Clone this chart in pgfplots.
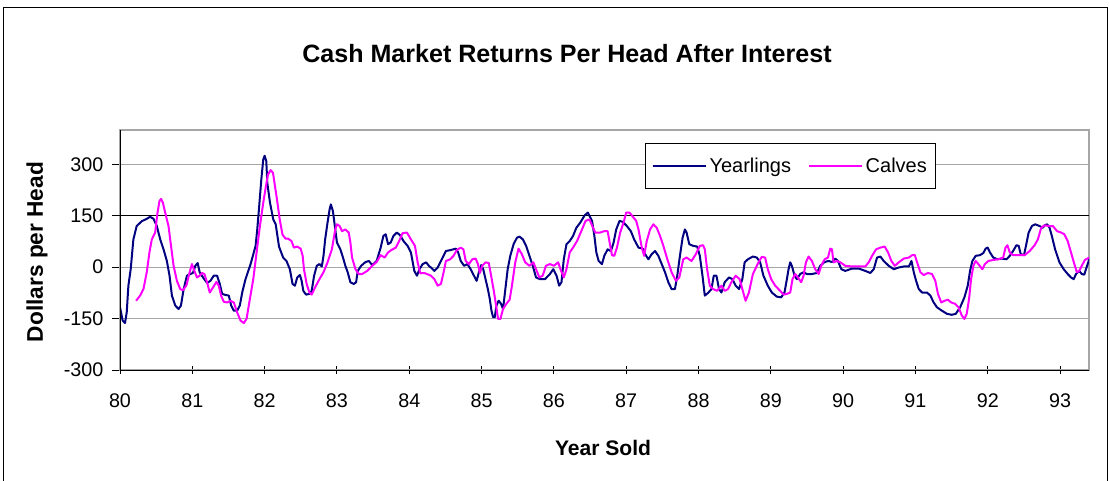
\documentclass[border=0pt]{standalone}
\usepackage{pgfplots}
\pgfplotsset{compat=1.18}
\usepackage{fontspec}
\setmainfont{Liberation Sans}
\definecolor{navy}{HTML}{000080}
\definecolor{magen}{HTML}{FF00FF}
\begin{document}
\begin{tikzpicture}
\clip (0pt,0pt) rectangle (831.75pt,-360pt);
\draw[black, line width=0.75pt] (2.25pt,-5.25pt) rectangle (830.25pt,-400pt);
\begin{axis}[
  at={(90pt,-277.5pt)}, anchor=south west,
  scale only axis, width=726.75pt, height=180pt,
  xmin=80, xmax=93.40, ymin=-300, ymax=400,
  xtick={80,81,...,93},
  xticklabels={80,81,82,83,84,85,86,87,88,89,90,91,92,93},
  ytick={-300,-150,0,150,300},
  yticklabels={-300,-150,0,150,300},
  extra y ticks={150}, extra y tick labels={},
  extra y tick style={grid style={black, line width=0.75pt}},
  tick pos=left, xtick align=center, ytick align=outside,
  major tick length=6pt,
  tick style={black, line width=0.75pt},
  ymajorgrids, grid style={gray!70, line width=0.75pt},
  axis line style={gray!70, line width=1pt},
  tick label style={font=\fontsize{14.8}{17}\selectfont},
  xticklabel style={yshift=-11pt},
  yticklabel style={xshift=-3pt},
  legend style={at={(rel axis cs:0.5418,0.9458)}, anchor=north west,
    draw=black, line width=0.75pt, fill=white,
    inner xsep=4.5pt, inner ysep=8.5pt,
    font=\fontsize{15}{18}\selectfont, legend columns=2,
    /tikz/every even column/.append style={column sep=10.5pt}},
  legend image code/.code={\draw[#1] (0pt,0pt) -- (40pt,0pt);},
]
\addplot[navy, line width=1.5pt, line join=round] coordinates {
(80.000,-117) (80.037,-156) (80.069,-163) (80.093,-132) (80.116,-54) (80.148,-6)
(80.185,81) (80.231,120) (80.301,134) (80.370,141) (80.417,147) (80.463,141)
(80.509,120) (80.556,81) (80.602,52) (80.648,18) (80.685,-25) (80.718,-83)
(80.764,-112) (80.810,-122) (80.843,-112) (80.880,-64) (80.926,-25) (80.972,-20)
(81.009,-17) (81.042,4) (81.074,12) (81.102,-15) (81.148,-30) (81.204,-46)
(81.250,-40) (81.296,-25) (81.343,-25) (81.380,-49) (81.412,-78) (81.458,-81)
(81.505,-83) (81.537,-112) (81.574,-127) (81.620,-127) (81.657,-112) (81.690,-74)
(81.736,-35) (81.806,9) (81.875,62) (81.898,110) (81.921,168) (81.954,255)
(81.981,314) (82.000,325) (82.023,309) (82.037,246) (82.074,188) (82.120,139)
(82.153,125) (82.199,60) (82.256,28) (82.302,18) (82.349,-6) (82.386,-49)
(82.419,-54) (82.451,-30) (82.488,-23) (82.512,-40) (82.535,-69) (82.572,-80)
(82.619,-78) (82.651,-69) (82.684,-25) (82.721,4) (82.758,9) (82.791,2)
(82.814,33) (82.837,81) (82.870,130) (82.898,168) (82.916,183) (82.944,164)
(82.977,110) (83.000,72) (83.047,52) (83.084,28) (83.116,4) (83.149,-15)
(83.186,-44) (83.233,-49) (83.265,-44) (83.288,-11) (83.335,4) (83.395,15)
(83.442,18) (83.488,6) (83.549,18) (83.605,57) (83.642,91) (83.674,96)
(83.707,67) (83.744,72) (83.781,91) (83.828,101) (83.874,93) (83.921,76)
(83.977,62) (84.023,43) (84.070,-11) (84.107,-25) (84.140,-6) (84.186,9)
(84.233,14) (84.279,2) (84.301,-1) (84.347,-11) (84.393,-1) (84.438,18)
(84.507,47) (84.575,50) (84.644,54) (84.676,43) (84.712,18) (84.758,4)
(84.804,9) (84.849,-6) (84.895,-25) (84.932,-40) (84.963,-15) (84.995,6)
(85.023,-6) (85.055,-35) (85.087,-64) (85.114,-93) (85.137,-127) (85.160,-146)
(85.183,-146) (85.205,-112) (85.237,-98) (85.269,-107) (85.297,-122) (85.329,-64)
(85.361,-6) (85.397,33) (85.443,67) (85.489,86) (85.525,89) (85.571,81)
(85.616,62) (85.662,33) (85.708,4) (85.753,-30) (85.808,-35) (85.877,-35)
(85.945,-20) (85.991,-6) (86.037,-25) (86.073,-54) (86.105,-44) (86.137,23)
(86.174,67) (86.219,76) (86.265,91) (86.311,115) (86.365,130) (86.425,151)
(86.470,159) (86.528,135) (86.560,91) (86.587,43) (86.619,18) (86.665,9)
(86.697,33) (86.743,52) (86.789,47) (86.826,72) (86.862,110) (86.908,135)
(86.954,132) (87.009,120) (87.064,105) (87.110,81) (87.170,57) (87.229,54)
(87.261,38) (87.307,23) (87.353,38) (87.399,47) (87.445,33) (87.491,9)
(87.537,-15) (87.583,-44) (87.628,-64) (87.674,-64) (87.706,-25) (87.743,33)
(87.780,86) (87.812,110) (87.835,101) (87.872,67) (87.927,62) (87.982,60)
(88.018,33) (88.055,-25) (88.087,-83) (88.133,-75) (88.179,-64) (88.211,-25)
(88.248,-25) (88.284,-64) (88.317,-74) (88.362,-44) (88.422,-30) (88.468,-35)
(88.514,-54) (88.560,-64) (88.606,-35) (88.638,14) (88.683,23) (88.752,31)
(88.806,28) (88.852,14) (88.898,-25) (88.958,-54) (89.014,-74) (89.083,-86)
(89.143,-88) (89.189,-74) (89.222,-35) (89.245,-6) (89.268,14) (89.291,4)
(89.328,-25) (89.360,-35) (89.406,-20) (89.453,-15) (89.499,-20) (89.568,-20)
(89.637,-17) (89.684,4) (89.744,15) (89.799,18) (89.845,15) (89.891,25)
(89.928,18) (89.975,-6) (90.030,-11) (90.122,-4) (90.215,-4) (90.307,-11)
(90.376,-17) (90.423,-6) (90.469,28) (90.515,31) (90.561,18) (90.630,4)
(90.700,-6) (90.769,-1) (90.838,2) (90.908,2) (90.945,18) (90.977,-15)
(91.009,-40) (91.046,-64) (91.092,-74) (91.160,-74) (91.206,-83) (91.252,-103)
(91.297,-117) (91.366,-127) (91.435,-136) (91.503,-139) (91.558,-136) (91.618,-117)
(91.677,-88) (91.723,-54) (91.755,-11) (91.787,18) (91.833,33) (91.892,35)
(91.938,41) (91.970,54) (91.998,57) (92.030,43) (92.076,28) (92.135,23)
(92.190,25) (92.259,23) (92.304,33) (92.350,47) (92.396,64) (92.428,62)
(92.455,38) (92.501,35) (92.533,67) (92.565,101) (92.611,120) (92.657,125)
(92.716,120) (92.762,115) (92.785,122) (92.822,125) (92.854,115) (92.886,91)
(92.931,52) (92.991,14) (93.050,-6) (93.105,-20) (93.151,-30) (93.188,-35)
(93.220,-20) (93.265,-11) (93.300,-20) (93.334,-22) (93.366,-1) (93.403,23)
};
\addlegendentry{Yearlings}
\addplot[magen, line width=1.5pt, line join=round] coordinates {
(80.222,-98) (80.278,-83) (80.324,-64) (80.370,-15) (80.407,43) (80.440,81)
(80.486,101) (80.519,159) (80.546,193) (80.569,199) (80.593,188) (80.625,159)
(80.671,120) (80.694,81) (80.741,4) (80.787,-40) (80.833,-64) (80.870,-67)
(80.917,-54) (80.963,-15) (80.995,9) (81.028,-11) (81.065,-30) (81.102,-25)
(81.134,-17) (81.167,-20) (81.204,-44) (81.241,-74) (81.287,-59) (81.333,-43)
(81.366,-54) (81.398,-83) (81.435,-101) (81.481,-103) (81.528,-98) (81.574,-103)
(81.620,-132) (81.667,-156) (81.713,-163) (81.750,-151) (81.796,-93) (81.843,-35)
(81.889,43) (81.935,120) (81.981,188) (82.014,231) (82.046,270) (82.083,283)
(82.116,275) (82.144,235) (82.176,190) (82.208,140) (82.247,95) (82.290,83)
(82.326,83) (82.372,76) (82.405,57) (82.451,60) (82.498,54) (82.526,33)
(82.544,-6) (82.581,-49) (82.619,-74) (82.651,-80) (82.698,-59) (82.758,-35)
(82.814,-15) (82.870,14) (82.930,52) (82.977,110) (83.000,125) (83.037,120)
(83.070,105) (83.116,110) (83.163,101) (83.186,72) (83.209,28) (83.256,-6)
(83.302,-20) (83.349,-20) (83.419,-11) (83.488,4) (83.549,15) (83.605,35)
(83.660,28) (83.707,43) (83.753,50) (83.814,57) (83.860,76) (83.907,99)
(83.967,101) (84.023,81) (84.079,62) (84.116,14) (84.153,-18) (84.209,-17)
(84.279,-23) (84.301,-25) (84.347,-35) (84.393,-54) (84.438,-49) (84.475,-15)
(84.507,18) (84.566,23) (84.612,33) (84.658,50) (84.712,57) (84.749,52)
(84.781,18) (84.826,9) (84.872,23) (84.918,25) (84.950,9) (84.977,-17)
(85.009,4) (85.055,14) (85.100,12) (85.132,-25) (85.169,-69) (85.201,-112)
(85.228,-151) (85.260,-151) (85.297,-122) (85.342,-107) (85.388,-95) (85.420,-54)
(85.466,14) (85.511,54) (85.557,38) (85.603,14) (85.662,4) (85.717,14)
(85.753,-6) (85.799,-30) (85.845,-25) (85.890,4) (85.945,9) (86.000,4)
(86.059,14) (86.091,-6) (86.137,-30) (86.174,-6) (86.219,43) (86.265,57)
(86.320,76) (86.379,105) (86.438,135) (86.493,139) (86.541,115) (86.573,101)
(86.642,101) (86.697,105) (86.743,105) (86.771,72) (86.803,35) (86.835,33)
(86.872,57) (86.917,101) (86.963,130) (87.000,159) (87.046,159) (87.092,147)
(87.138,135) (87.170,110) (87.216,57) (87.248,33) (87.284,76) (87.330,110)
(87.376,125) (87.422,115) (87.468,91) (87.514,62) (87.569,23) (87.628,-15)
(87.688,-40) (87.734,-30) (87.789,23) (87.835,28) (87.904,18) (87.963,38)
(88.018,62) (88.064,64) (88.087,52) (88.119,-6) (88.156,-54) (88.202,-64)
(88.257,-69) (88.317,-54) (88.362,-69) (88.408,-64) (88.454,-44) (88.514,-25)
(88.569,-35) (88.606,-64) (88.651,-98) (88.697,-74) (88.752,-20) (88.829,14)
(88.875,30) (88.921,28) (88.958,-6) (89.005,-35) (89.060,-54) (89.129,-69)
(89.176,-80) (89.222,-78) (89.268,-74) (89.300,-35) (89.337,-20) (89.374,-30)
(89.420,-44) (89.453,-25) (89.485,14) (89.522,31) (89.568,18) (89.614,-6)
(89.661,-20) (89.697,4) (89.744,23) (89.790,28) (89.822,54) (89.845,52)
(89.868,14) (89.915,18) (89.961,14) (90.030,4) (90.122,2) (90.215,2)
(90.307,2) (90.353,14) (90.400,33) (90.455,52) (90.515,57) (90.575,60)
(90.621,43) (90.667,18) (90.714,4) (90.769,14) (90.838,25) (90.908,28)
(90.954,35) (90.991,35) (91.023,14) (91.069,-15) (91.114,-23) (91.174,-17)
(91.229,-20) (91.275,-40) (91.311,-78) (91.357,-103) (91.403,-98) (91.449,-95)
(91.494,-103) (91.549,-107) (91.595,-117) (91.641,-141) (91.677,-151) (91.709,-136)
(91.741,-93) (91.769,-35) (91.801,4) (91.833,18) (91.870,9) (91.924,-6)
(91.961,9) (92.007,18) (92.076,21) (92.144,23) (92.213,28) (92.245,57)
(92.272,64) (92.304,43) (92.350,35) (92.419,35) (92.510,35) (92.579,47)
(92.648,64) (92.693,81) (92.739,115) (92.785,122) (92.840,120) (92.899,120)
(92.959,105) (93.014,101) (93.059,96) (93.105,76) (93.151,43) (93.197,9)
(93.233,-15) (93.265,-11) (93.300,4) (93.343,21) (93.403,28)
};
\addlegendentry{Calves}
\draw[black, line width=0.75pt] (rel axis cs:0,1) -- (rel axis cs:0,0) -- (rel axis cs:1,0);
\end{axis}
\node[font=\fontsize{18.8}{22}\selectfont\bfseries] at (425.25pt,-40.5pt) {Cash Market Returns Per Head After Interest};
\node[font=\fontsize{15.8}{19}\selectfont\bfseries] at (452.25pt,-336pt) {Year Sold};
\node[font=\fontsize{17}{20}\selectfont\bfseries, rotate=90] at (27.75pt,-189pt) {Dollars per Head};
\end{tikzpicture}
\end{document}
